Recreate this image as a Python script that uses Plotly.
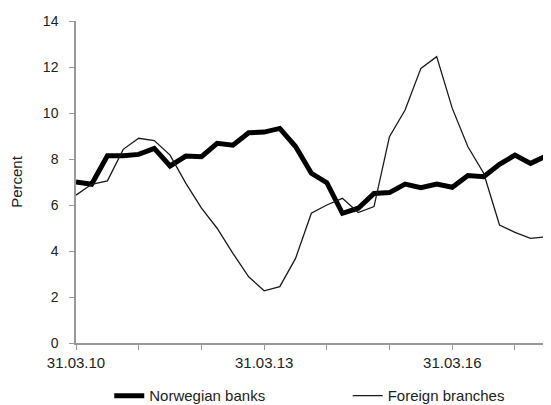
import plotly.graph_objects as go
import pandas as pd

dates = pd.date_range("2010-03-31", periods=32, freq="QE").strftime("%Y-%m-%d").tolist()

norwegian_banks = [7.0, 6.9, 8.14, 8.14, 8.2, 8.46, 7.7, 8.13, 8.1, 8.68, 8.6, 9.14,
                   9.17, 9.33, 8.54, 7.38, 6.97, 5.64, 5.86, 6.5, 6.54, 6.91, 6.75, 6.91,
                   6.77, 7.28, 7.23, 7.77, 8.17, 7.81, 8.14, 7.6]
foreign_branches = [6.43, 6.9, 7.05, 8.42, 8.9, 8.8, 8.17, 6.94, 5.86, 4.99, 3.9, 2.88,
                    2.27, 2.45, 3.68, 5.64, 6.0, 6.29, 5.67, 5.93, 8.97, 10.13, 11.94, 12.45,
                    10.2, 8.53, 7.38, 5.13, 4.81, 4.55, 4.62, 5.1]

tick_dates = ["2010-03-31", "2011-03-31", "2012-03-31", "2013-03-31", "2014-03-31",
              "2015-03-31", "2016-03-31", "2017-03-31"]
tick_labels = ["31.03.10", "", "", "31.03.13", "", "", "31.03.16", ""]

FONT = "Liberation Sans, Arial, sans-serif"

fig = go.Figure()
fig.add_trace(go.Scatter(x=dates, y=norwegian_banks, mode="lines", name="Norwegian banks",
                         line=dict(color="#000000", width=5), legend="legend"))
fig.add_trace(go.Scatter(x=dates, y=foreign_branches, mode="lines", name="Foreign branches",
                         line=dict(color="#1a1a1a", width=1.3), legend="legend2"))

leg_common = dict(orientation="h", y=-0.113, xanchor="left", yanchor="top",
                  font=dict(size=15, color="#222"), bgcolor="rgba(0,0,0,0)")

# page body adds an 8px offset; figure sized to fill the rest of the window
fig.update_layout(
    width=543, height=397,
    margin=dict(l=68, r=0, t=13, b=62, autoexpand=False),
    paper_bgcolor="white", plot_bgcolor="white",
    font=dict(family=FONT, size=14, color="#222"),
    showlegend=True,
    legend=dict(x=0.070, **leg_common),
    legend2=dict(x=0.572, **leg_common),
    xaxis=dict(type="date", range=["2010-03-31", "2017-10-27"],
               tickvals=tick_dates, ticktext=tick_labels,
               showline=True, linecolor="#999", linewidth=1.5,
               ticks="outside", ticklen=5, tickcolor="#999", tickwidth=1,
               showgrid=False, zeroline=False, tickfont=dict(size=15, color="#222")),
    yaxis=dict(range=[0, 14], tickvals=[0, 2, 4, 6, 8, 10, 12, 14],
               showline=True, linecolor="#999", linewidth=1.5,
               ticks="outside", ticklen=5, tickcolor="#999", tickwidth=1,
               showgrid=False, zeroline=False, ticklabelstandoff=8,
               tickfont=dict(size=14, color="#222"),
               title=dict(text="Percent", font=dict(size=15, color="#222"), standoff=25)),
)

fig.write_html("out.html")
